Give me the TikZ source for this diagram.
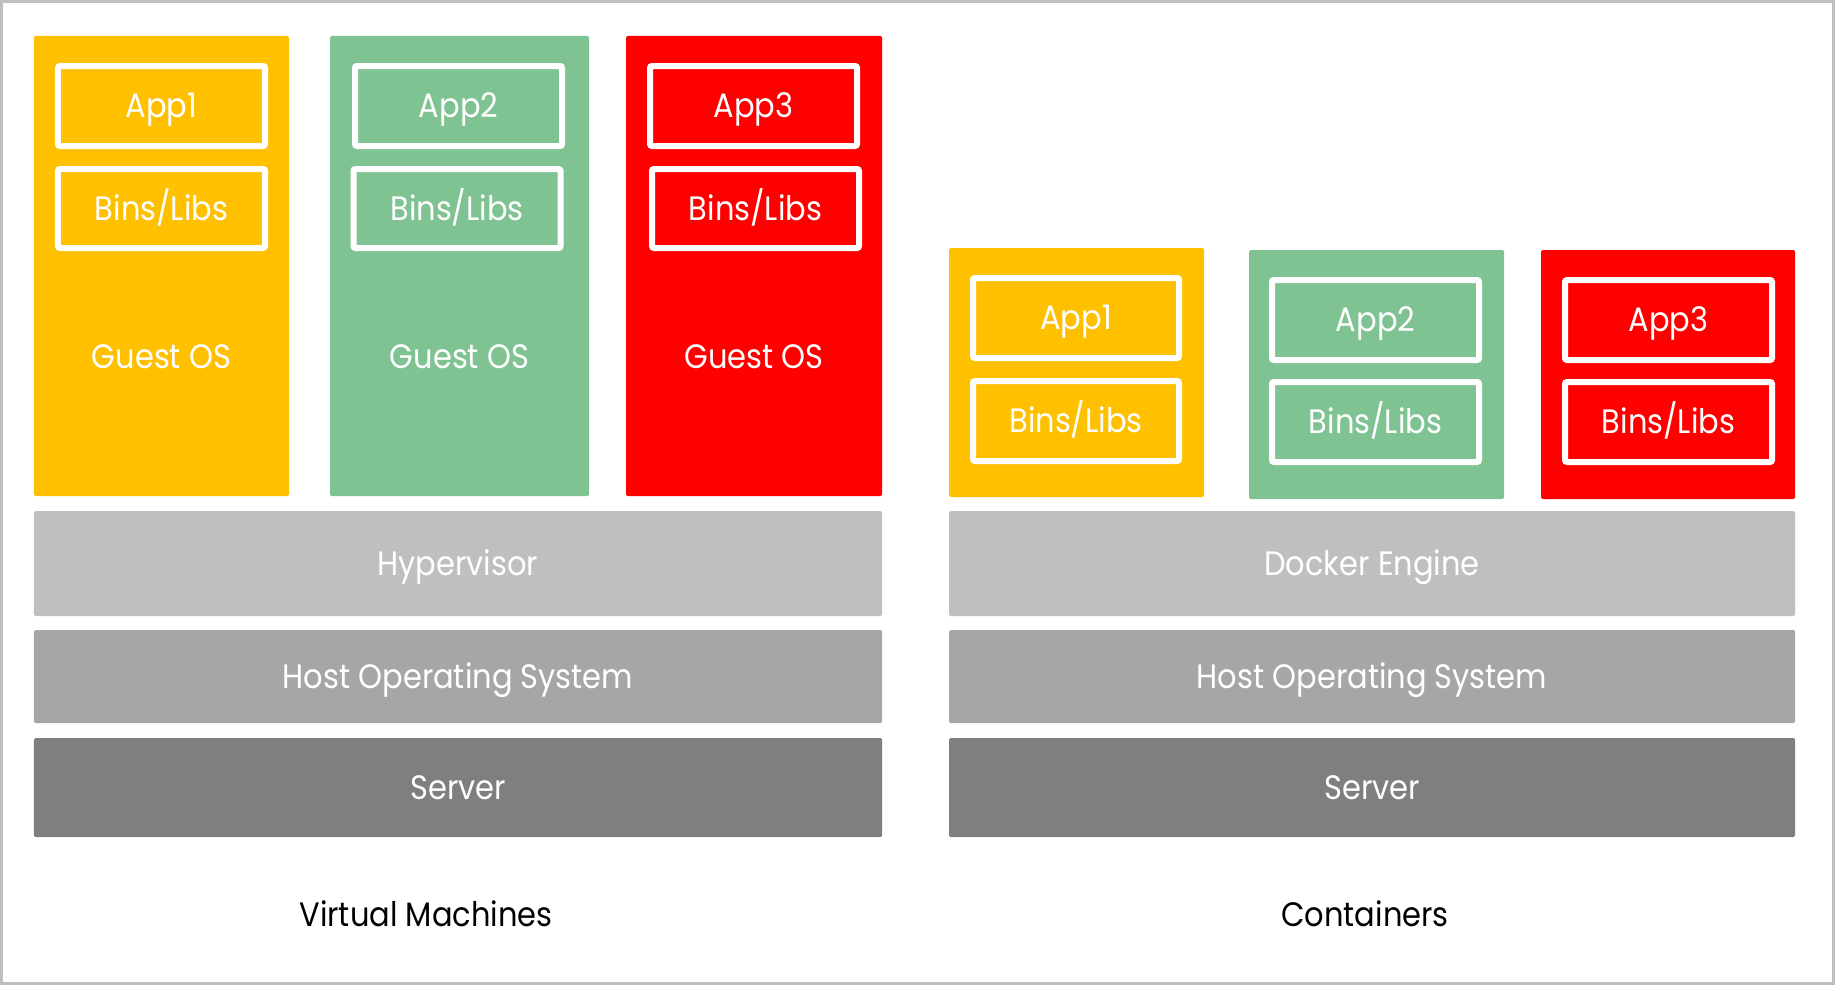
\documentclass[tikz,border=0pt]{standalone}
\usepackage{fontspec}
\setmainfont{Poppins}[FakeStretch=0.9]
\definecolor{cyellow}{HTML}{FFC000}
\definecolor{cgreen}{HTML}{7FC393}
\definecolor{cred}{HTML}{FF0000}
\definecolor{chyp}{HTML}{BFBFBF}
\definecolor{chost}{HTML}{A6A6A6}
\definecolor{cserver}{HTML}{7F7F7F}
\definecolor{cframe}{HTML}{BFBFBF}
\tikzset{
  txt/.style={font=\fontsize{34}{38}\selectfont, text=white, text height=23.7bp, text depth=0pt},
  column/.style={fill=#1, draw=none, rounded corners=1.5bp, inner sep=0pt, minimum width=255bp, txt},
  appbox/.style={fill=none, draw=white, line width=6bp, rounded corners=2bp, inner sep=0pt, minimum width=207bp, minimum height=80bp, txt},
  layer/.style={fill=#1, draw=none, rounded corners=1.5bp, inner sep=0pt, txt},
  caption/.style={font=\fontsize{34}{38}\selectfont, text=black, text height=23.7bp, text depth=0pt},
}
\begin{document}
\begin{tikzpicture}[x=1bp, y=-1bp]
\useasboundingbox (0,0) rectangle (1835,985);
\draw[cframe, line width=3bp] (1.5,1.5) rectangle (1833.5,983.5);

% ---- Virtual machines ----
\node[column=cyellow, minimum width=255bp, minimum height=460bp] (vm1) at (161.5,266) {};
\node[column=cgreen, minimum width=259bp, minimum height=460bp] (vm2) at (459.5,266) {};
\node[column=cred, minimum width=256bp, minimum height=460bp] (vm3) at (754,266) {};

\node[appbox] (vmapp1) at (161.5,106) {App1};
\node[appbox, minimum height=79bp] (vmbins1) at (161.5,208.5) {Bins/Libs};
\node[txt] (vmos1) at (161.5,357) {Guest OS};

\node[appbox] (vmapp2) at (458.5,106) {App2};
\node[appbox, minimum height=79bp] (vmbins2) at (457,208.5) {Bins/Libs};
\node[txt] (vmos2) at (459.5,357) {Guest OS};

\node[appbox] (vmapp3) at (753.5,106) {App3};
\node[appbox, minimum height=79bp] (vmbins3) at (755.5,208.5) {Bins/Libs};
\node[txt] (vmos3) at (754,357) {Guest OS};

\node[layer=chyp, minimum width=848bp, minimum height=105bp] (hyp) at (458,563.5) {Hypervisor};
\node[layer=chost, minimum width=848bp, minimum height=93bp] (vmhost) at (458,676.5) {Host Operating System};
\node[layer=cserver, minimum width=848bp, minimum height=99bp] (vmserver) at (458,787.5) {Server};
\node[caption] (vmlabel) at (426,915) {Virtual Machines};

% ---- Containers ----
\node[column=cyellow, minimum width=255bp, minimum height=249bp] (ct1) at (1076.5,372.5) {};
\node[column=cgreen, minimum width=255bp, minimum height=249bp] (ct2) at (1376.5,374.5) {};
\node[column=cred, minimum width=254bp, minimum height=249bp] (ct3) at (1668,374.5) {};

\node[appbox, minimum width=206bp] (ctapp1) at (1076,318) {App1};
\node[appbox, minimum width=206bp] (ctbins1) at (1076,421) {Bins/Libs};
\node[appbox] (ctapp2) at (1375.5,320) {App2};
\node[appbox] (ctbins2) at (1375.5,422) {Bins/Libs};
\node[appbox] (ctapp3) at (1668.5,320) {App3};
\node[appbox] (ctbins3) at (1668.5,422) {Bins/Libs};

\node[layer=chyp, minimum width=846bp, minimum height=105bp] (docker) at (1372,563.5) {Docker Engine};
\node[layer=chost, minimum width=846bp, minimum height=93bp] (cthost) at (1372,676.5) {Host Operating System};
\node[layer=cserver, minimum width=846bp, minimum height=99bp] (ctserver) at (1372,787.5) {Server};
\node[caption] (ctlabel) at (1365,915) {Containers};
\end{tikzpicture}
\end{document}
